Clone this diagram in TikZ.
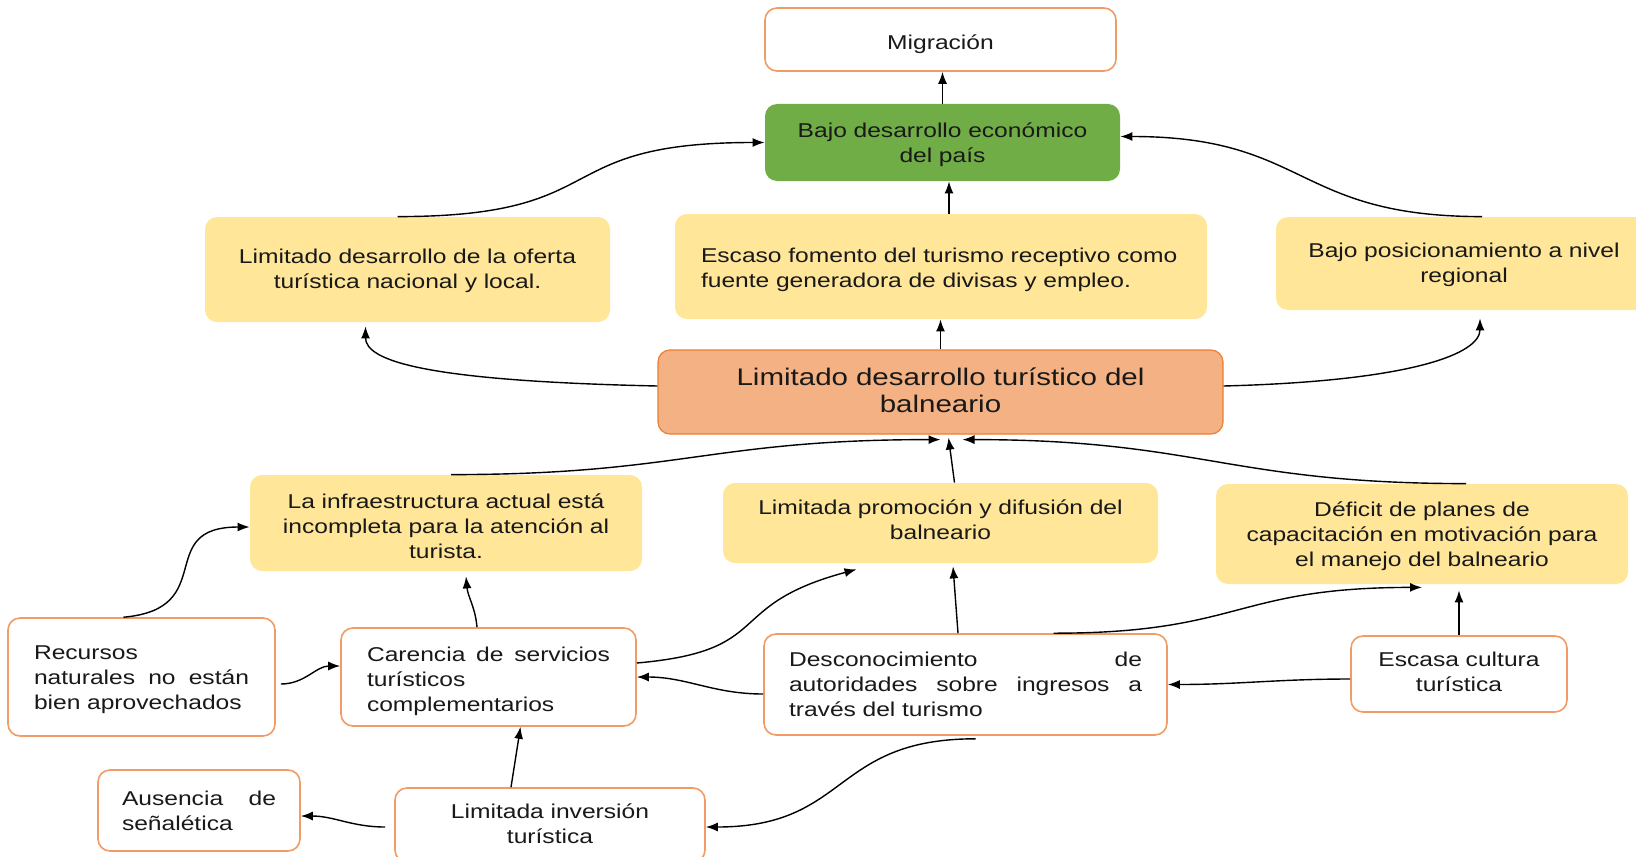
\documentclass[tikz,border=0pt]{standalone}
\usepackage{fontspec}
\setmainfont{Liberation Sans}[FakeStretch=1.23]
\usepackage{tikz}
\usetikzlibrary{shapes.geometric, arrows, arrows.meta}
\definecolor{amarillo}{HTML}{FFE699}
\definecolor{verde}{HTML}{70AD47}
\definecolor{salmon}{HTML}{F4B183}
\definecolor{naranja}{HTML}{ED7D31}
\definecolor{bordeclaro}{HTML}{F19C65}
\tikzstyle{caja} = [rectangle, rounded corners=6pt, align=center, inner sep=0pt, text=black!90, font=\fontsize{10}{12.5}\selectfont]
\tikzstyle{efecto} = [caja, fill=amarillo]
\tikzstyle{causa} = [caja, fill=white, draw=bordeclaro, line width=0.8pt]
\tikzstyle{flecha} = [line width=0.7pt, -{Latex[length=6pt,width=4.5pt]}]
\tikzset{ancho/.style={minimum width=#1, text width=#1},
  bajar/.style={execute at begin node={\rule{0pt}{#1}}},
  subir/.style={execute at end node={\rule[-#1]{0pt}{#1}}}}

\begin{document}
\begin{tikzpicture}[x=0.5pt,y=-0.5pt]
\useasboundingbox (0,0) rectangle (1636,856);
% Nodos principales
\node (migracion) [causa, ancho=175.5pt, minimum height=31.5pt, bajar=12pt] at (940.5,39.5) {Migración};
\node (verde) [caja, fill=verde, ancho=177.5pt, minimum height=38.5pt, bajar=9.8pt] at (942.5,142.5) {Bajo desarrollo económico\\ del país};
\node (oferta) [efecto, ancho=202.5pt, minimum height=52.5pt, bajar=8.3pt] at (407.5,269.5) {Limitado desarrollo de la oferta\\ turística nacional y local.};
\node (fomento) [efecto, align=left, text width=240pt, minimum width=266pt, minimum height=52.5pt, bajar=10.3pt] at (941,266.5) {Escaso fomento del turismo receptivo como\\ fuente generadora de divisas y empleo.};
\node (posicion) [efecto, ancho=188pt, minimum height=46.5pt, bajar=8.8pt] at (1464,263.5) {Bajo posicionamiento a nivel\\ regional};
\node (central) [caja, fill=salmon, draw=naranja, line width=0.6pt, font=\fontsize{12}{13.5}\selectfont, ancho=282.5pt, minimum height=42pt, subir=1.5pt] at (940.5,392) {Limitado desarrollo turístico del\\ balneario};
\node (infra) [efecto, ancho=196pt, minimum height=48pt, bajar=10.3pt] at (446,523) {La infraestructura actual está\\ incompleta para la atención al\\ turista.};
\node (promocion) [efecto, ancho=217.5pt, minimum height=40pt, subir=3pt] at (940.5,523) {Limitada promoción y difusión del\\ balneario};
\node (deficit) [efecto, ancho=206pt, minimum height=50pt, bajar=9.9pt] at (1422,534) {Déficit de planes de\\ capacitación en motivación para\\ el manejo del balneario};
\node (recursos) [causa, align=left, text width=107.5pt, minimum width=133.5pt, minimum height=59pt, bajar=10pt] at (141.5,677) {Recursos\\ naturales\hfill no\hfill están\\ bien aprovechados};
\node (carencia) [causa, align=left, text width=121.5pt, minimum width=147.5pt, minimum height=49pt, bajar=11.5pt] at (488.5,677) {Carencia\hfill de\hfill servicios\\ turísticos\\ complementarios};
\node (desconoc) [causa, align=left, text width=176.5pt, minimum width=201.5pt, minimum height=50.5pt] at (965.5,684.5) {Desconocimiento\hfill de\\ autoridades\hfill sobre\hfill ingresos\hfill a\\ través del turismo};
\node (escasa) [causa, ancho=108pt, minimum height=38pt, subir=2.5pt] at (1459,674) {Escasa cultura\\ turística};
\node (ausencia) [causa, align=left, text width=77pt, minimum width=101pt, minimum height=40.5pt] at (199,810.5) {Ausencia\hfill de\\ señalética};
\node (inversion) [causa, ancho=155pt, minimum height=37pt, subir=1.5pt] at (550,825) {Limitada inversión\\ turística};

% Flechas hacia arriba
\draw [flecha] (verde.north) -- (verde.north |- migracion.south);
\draw [flecha] ([xshift=4pt]fomento.north) -- ([xshift=4pt]fomento.north |- verde.south);
\draw [flecha] ([xshift=-5pt]oferta.north) to[out=0,in=180,looseness=1.5] (verde.west);
\draw [flecha] ([xshift=9pt]posicion.north) to[out=180,in=0,looseness=1.3] ([yshift=3pt]verde.east);
\draw [flecha] ([yshift=3pt]central.west) .. controls +(-230,-5) and +(0,35) .. ([xshift=-21pt,yshift=-2pt]oferta.south);
\draw [flecha] (central.north) -- (central.north |- fomento.south);
\draw [flecha] ([yshift=3pt]central.east) .. controls +(190,-5) and +(0,35) .. ([xshift=8pt,yshift=-4pt]posicion.south);

% Flechas hacia el problema central
\draw [flecha] ([xshift=2.5pt]infra.north) to[out=0,in=180,looseness=1.2] ([yshift=-2.5pt]central.south);
\draw [flecha] ([xshift=7pt]promocion.north) -- ([xshift=4pt,yshift=-1.5pt]central.south);
\draw [flecha] ([xshift=22pt]deficit.north) to[out=180,in=0,looseness=1.2] ([xshift=11pt,yshift=-2.5pt]central.south);

% Flechas entre causas
\draw [flecha] ([xshift=-9pt]recursos.north) to[out=5,in=180,looseness=1.6] ([yshift=-2pt]infra.west);
\draw [flecha] ([xshift=2.5pt,yshift=-3.5pt]recursos.east) to[out=0,in=180] ([yshift=5.5pt]carencia.west);
\draw [flecha] ([xshift=-5.75pt]carencia.north) to[out=95,in=-85] ([xshift=10pt,yshift=-2.5pt]infra.south);
\draw [flecha] ([yshift=7pt]carencia.east) to[out=5,in=195,looseness=1.5] ([xshift=-42pt,yshift=-3pt]promocion.south);
\draw [flecha] ([yshift=-4.75pt]desconoc.west) to[out=180,in=0] (carencia.east);
\draw [flecha] ([xshift=-3.75pt]desconoc.north) -- ([xshift=6.25pt,yshift=-1.5pt]promocion.south);
\draw [flecha] ([xshift=44pt]desconoc.north) to[out=0,in=180,looseness=1.3] ([yshift=-1.5pt]deficit.south);
\draw [flecha] (escasa.north) -- ([yshift=-3pt]escasa.north |- deficit.south);
\draw [flecha] ([yshift=-2.5pt]escasa.west) to[out=180,in=0] (desconoc.east);
\draw [flecha] ([xshift=5pt,yshift=-1.5pt]desconoc.south) to[out=180,in=0,looseness=1.3] ([yshift=-1pt]inversion.east);
\draw [flecha] ([xshift=-19.5pt]inversion.north) -- ([xshift=16pt]carencia.south);
\draw [flecha] ([xshift=-4.5pt,yshift=-1pt]inversion.west) to[out=180,in=0] ([yshift=-2.75pt]ausencia.east);
\end{tikzpicture}
\end{document}
